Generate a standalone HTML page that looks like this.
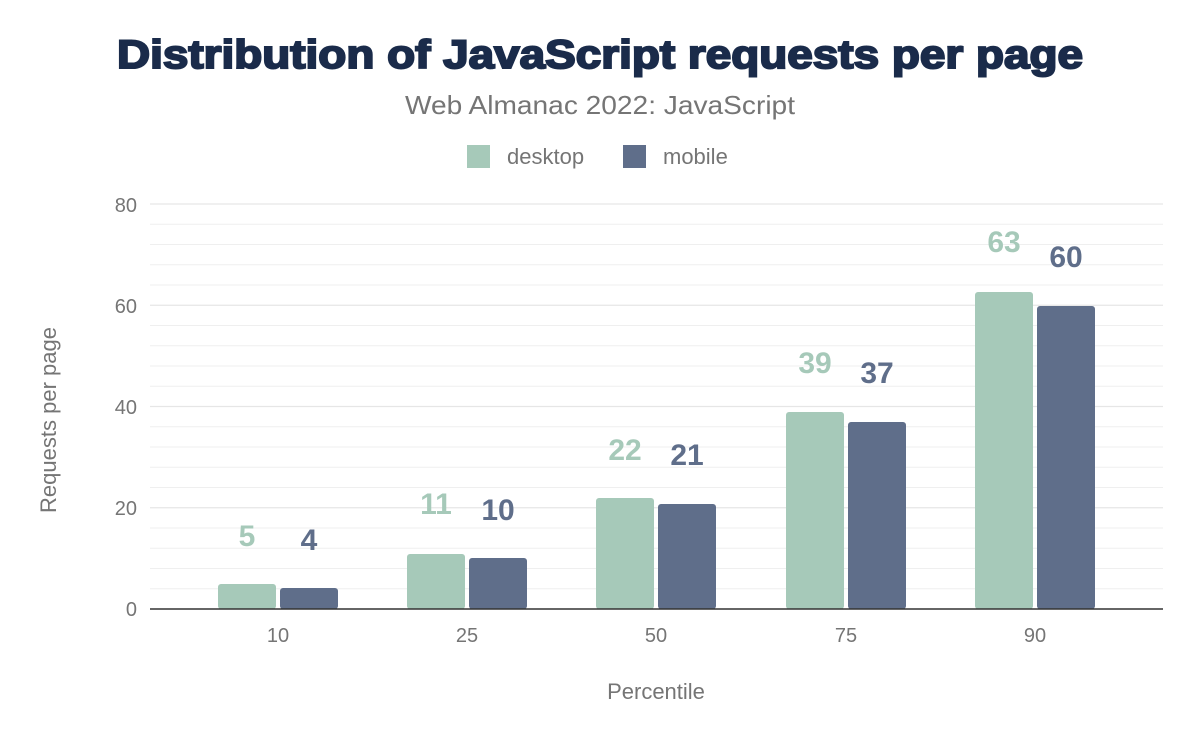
<!DOCTYPE html>
<html><head><meta charset="utf-8"><style>
body{margin:0;background:#fff;width:1200px;height:742px;overflow:hidden;font-family:"Liberation Sans",sans-serif}
</style></head><body>
<svg width="1200" height="742" xmlns="http://www.w3.org/2000/svg" font-family="Liberation Sans, sans-serif">
<rect width="1200" height="742" fill="#fff"/>
<text x="117" y="68" textLength="966" lengthAdjust="spacingAndGlyphs" font-size="40" font-weight="900" fill="#1a2b4a" stroke="#1a2b4a" stroke-width="2">Distribution of JavaScript requests per page</text>
<text x="405" y="114" textLength="390" lengthAdjust="spacingAndGlyphs" font-size="26" fill="#757575">Web Almanac 2022: JavaScript</text>
<rect x="467" y="145" width="23" height="23" fill="#a6c9b9"/>
<text x="507" y="164" font-size="22" fill="#757575">desktop</text>
<rect x="623" y="145" width="23" height="23" fill="#5f6e8a"/>
<text x="663" y="164" font-size="22" fill="#757575">mobile</text>
<g stroke="#efefef" stroke-width="1">
<line x1="150" x2="1163" y1="588.75" y2="588.75"/><line x1="150" x2="1163" y1="568.5" y2="568.5"/><line x1="150" x2="1163" y1="548.25" y2="548.25"/><line x1="150" x2="1163" y1="528" y2="528"/>
<line x1="150" x2="1163" y1="487.5" y2="487.5"/><line x1="150" x2="1163" y1="467.25" y2="467.25"/><line x1="150" x2="1163" y1="447" y2="447"/><line x1="150" x2="1163" y1="426.75" y2="426.75"/>
<line x1="150" x2="1163" y1="386.25" y2="386.25"/><line x1="150" x2="1163" y1="366" y2="366"/><line x1="150" x2="1163" y1="345.75" y2="345.75"/><line x1="150" x2="1163" y1="325.5" y2="325.5"/>
<line x1="150" x2="1163" y1="285" y2="285"/><line x1="150" x2="1163" y1="264.75" y2="264.75"/><line x1="150" x2="1163" y1="244.5" y2="244.5"/><line x1="150" x2="1163" y1="224.25" y2="224.25"/>
</g>
<g stroke="#e6e6e6" stroke-width="1.3">
<line x1="150" x2="1163" y1="204" y2="204"/><line x1="150" x2="1163" y1="305.25" y2="305.25"/><line x1="150" x2="1163" y1="406.5" y2="406.5"/><line x1="150" x2="1163" y1="507.75" y2="507.75"/>
</g>
<g font-size="20" fill="#757575" text-anchor="end">
<text x="137" y="212">80</text><text x="137" y="313">60</text><text x="137" y="414">40</text><text x="137" y="515">20</text><text x="137" y="616">0</text>
</g>
<text transform="translate(56,420) rotate(-90)" text-anchor="middle" font-size="22" fill="#757575">Requests per page</text>
<g fill="#a6c9b9">
<rect x="218" y="584" width="58" height="25" rx="3"/>
<rect x="407" y="554" width="58" height="55" rx="3"/>
<rect x="596" y="498" width="58" height="111" rx="3"/>
<rect x="786" y="412" width="58" height="197" rx="3"/>
<rect x="975" y="292" width="58" height="317" rx="3"/>
</g>
<g fill="#5f6e8a">
<rect x="280" y="588" width="58" height="21" rx="3"/>
<rect x="469" y="558" width="58" height="51" rx="3"/>
<rect x="658" y="504" width="58" height="105" rx="3"/>
<rect x="848" y="422" width="58" height="187" rx="3"/>
<rect x="1037" y="306" width="58" height="303" rx="3"/>
</g>
<line x1="150" x2="1163" y1="609" y2="609" stroke="#333" stroke-width="1.5"/>
<g font-size="30" font-weight="bold" text-anchor="middle" fill="#a6c9b9">
<text x="247" y="546">5</text><text x="436" y="514">11</text><text x="625" y="460">22</text><text x="815" y="373">39</text><text x="1004" y="252">63</text>
</g>
<g font-size="30" font-weight="bold" text-anchor="middle" fill="#5f6e8a">
<text x="309" y="550">4</text><text x="498" y="520">10</text><text x="687" y="465">21</text><text x="877" y="383">37</text><text x="1066" y="267">60</text>
</g>
<g font-size="20" fill="#757575" text-anchor="middle">
<text x="278" y="642">10</text><text x="467" y="642">25</text><text x="656" y="642">50</text><text x="846" y="642">75</text><text x="1035" y="642">90</text>
</g>
<text x="656" y="699" text-anchor="middle" font-size="22" fill="#757575">Percentile</text>
</svg>
</body></html>
